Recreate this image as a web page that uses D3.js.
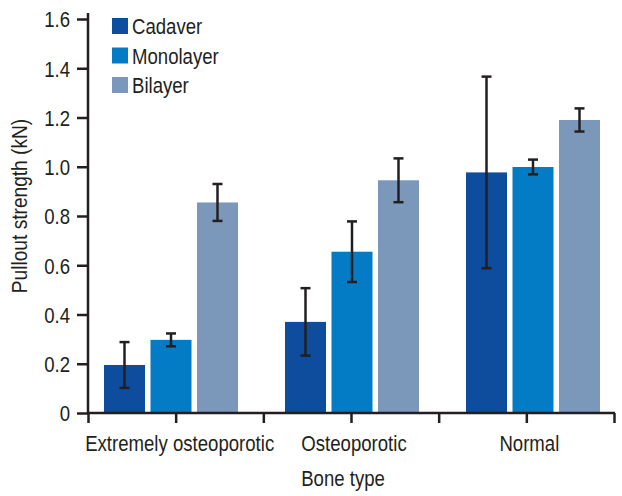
<!DOCTYPE html>
<html>
<head>
<meta charset="utf-8">
<script src="https://cdn.jsdelivr.net/npm/d3@7"></script>
<style>
  html, body { margin: 0; padding: 0; background: #fff; }
  svg { display: block; }
  text { font-family: "Liberation Sans", Arial, sans-serif; fill: #231f20; }
</style>
</head>
<body>
<svg id="chart" width="622" height="496"></svg>
<script>
const categories = ["Extremely osteoporotic", "Osteoporotic", "Normal"];
const seriesNames = ["Cadaver", "Monolayer", "Bilayer"];
const cadaver = [0.195, 0.37, 0.977];
const cadaverErr = [0.093, 0.137, 0.389];
const monolayer = [0.297, 0.655, 0.999];
const monolayerErr = [0.026, 0.123, 0.03];
const bilayer = [0.855, 0.945, 1.19];
const bilayerErr = [0.075, 0.089, 0.047];
const yTicks = [0, 0.2, 0.4, 0.6, 0.8, 1.0, 1.2, 1.4, 1.6];
const colors = ["#0e4c9e", "#047bc5", "#7b98bb"];

const values = [cadaver, monolayer, bilayer];
const errs = [cadaverErr, monolayerErr, bilayerErr];

const svg = d3.select("#chart");
const ink = "#231f20";
const SX = 0.845; // horizontal condensing of text

function label(parent, x, y, txt, anchor, size, rot, sx) {
  return parent.append("text")
    .attr("transform", `translate(${x},${y})` + (rot ? ` rotate(${rot})` : "") + ` scale(${sx || SX},1)`)
    .attr("text-anchor", anchor || "start")
    .attr("font-size", size || 22)
    .text(txt);
}

const y = d3.scaleLinear().domain([0, 1.6]).range([413, 19]);

// group band scale for bars
const x0 = d3.scaleBand().domain(categories).range([80.5, 623.5]).padding(0);
const x1 = d3.scaleBand().domain(seriesNames).range([23.5, 157.5]).paddingInner(0.118).paddingOuter(0);

// axis tick scale (ticks at group boundaries and midpoints)
const xt = d3.scaleLinear().domain([0, 3]).range([88, 614]);

const data = [];
categories.forEach((c, ci) => {
  seriesNames.forEach((s, si) => {
    data.push({cat: c, ser: s, si: si, v: values[si][ci], e: errs[si][ci]});
  });
});

svg.append("g").selectAll("rect").data(data).join("rect")
  .attr("x", d => x0(d.cat) + x1(d.ser))
  .attr("y", d => y(d.v))
  .attr("width", x1.bandwidth())
  .attr("height", d => y(0) - y(d.v))
  .attr("fill", d => colors[d.si]);

// error bars
const gErr = svg.append("g").attr("stroke", ink).attr("stroke-width", 2.5).attr("fill", "none");
data.forEach(d => {
  const cx = x0(d.cat) + x1(d.ser) + x1.bandwidth() / 2;
  const yt = y(d.v + d.e), yb = y(d.v - d.e);
  gErr.append("line").attr("x1", cx).attr("x2", cx).attr("y1", yt).attr("y2", yb);
  gErr.append("line").attr("x1", cx - 5).attr("x2", cx + 5).attr("y1", yt).attr("y2", yt);
  gErr.append("line").attr("x1", cx - 5).attr("x2", cx + 5).attr("y1", yb).attr("y2", yb);
});

// y axis
const yAxis = d3.axisLeft(y).tickValues(yTicks)
  .tickFormat(d => d === 0 ? "0" : d3.format(".1f")(d))
  .tickSize(11).tickPadding(7).tickSizeOuter(0);
const gy = svg.append("g").attr("transform", "translate(88,0)").call(yAxis);
gy.select(".domain").remove();
gy.append("line").attr("x1", 0).attr("x2", 0).attr("y1", 13).attr("y2", 414)
  .attr("stroke", ink).attr("stroke-width", 2.5);
gy.selectAll(".tick line").attr("stroke", ink).attr("stroke-width", 2.5);
gy.selectAll(".tick text")
  .attr("x", null).attr("dy", "0.36em")
  .attr("transform", `translate(-18,0) scale(${SX},1)`)
  .attr("font-size", 22).attr("font-family", null).style("fill", ink);
gy.attr("font-family", null);

// x axis
const xAxis = d3.axisBottom(xt).tickValues([0, 0.5, 1, 1.5, 2, 2.5, 3])
  .tickFormat("").tickSize(10).tickSizeOuter(0);
const gx = svg.append("g").attr("transform", "translate(0,413)").call(xAxis);
gx.select(".domain").remove();
gx.append("line").attr("x1", 87).attr("x2", 615).attr("y1", 0).attr("y2", 0)
  .attr("stroke", ink).attr("stroke-width", 2.5);
gx.selectAll(".tick line").attr("stroke", ink).attr("stroke-width", 2.5);

// category labels
const gLab = svg.append("g");
categories.forEach((c, i) => label(gLab, xt(i + 0.5) + (i === 0 ? 4 : 3), 451, c, "middle", 22));

// axis titles
label(svg, 343, 486, "Bone type", "middle", 22);
label(svg, 27, 206, "Pullout strength (kN)", "middle", 22, -90, 0.87);

// legend
const lg = svg.append("g");
seriesNames.forEach((s, i) => {
  const top = 18 + i * 29.5;
  lg.append("rect").attr("x", 112).attr("y", top).attr("width", 16).attr("height", 16).attr("fill", colors[i]);
  label(lg, 132, top + 16, s, "start", 22);
});
</script>
</body>
</html>
